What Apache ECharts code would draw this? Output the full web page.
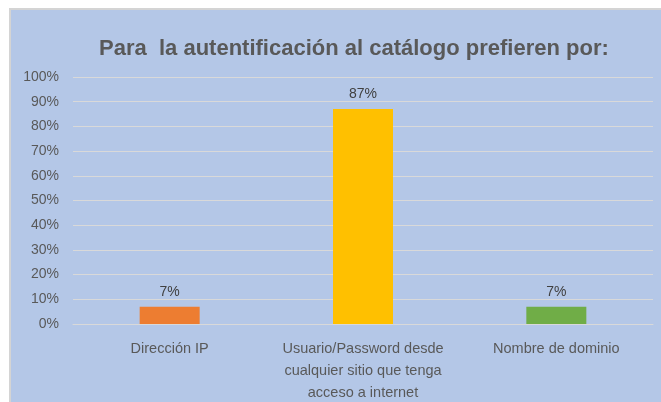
<!DOCTYPE html>
<html>
<head>
<meta charset="utf-8">
<script src="https://cdn.jsdelivr.net/npm/echarts@6/dist/echarts.min.js"></script>
<style>
  html, body { margin: 0; padding: 0; background: #fff; }
  #chart {
    position: absolute; left: 9px; top: 8px;
    width: 650px; height: 392px;
    border-left: 2px solid #d4d4d4; border-top: 2px solid #d4d4d4;
  }
</style>
</head>
<body>
<div id="chart"></div>
<script>
const categories = [
  'Dirección IP',
  'Usuario/Password desde\ncualquier sitio que tenga\nacceso a internet',
  'Nombre de dominio'
];
const values = [7, 87, 7];
const barColors = ['#ED7D31', '#FFC000', '#70AD47'];
const titleText = 'Para  la autentificación al catálogo prefieren por:';

const font = 'Liberation Sans, Arial, sans-serif';

const myChart = echarts.init(document.getElementById('chart'));

const option = {
  backgroundColor: '#B4C7E7',
  animation: false,
  title: {
    text: titleText,
    left: 83,
    top: 23,
    textStyle: { fontFamily: font, fontSize: 22, fontWeight: 'bold', color: '#595959' }
  },
  grid: {
    left: 62,
    right: 8,
    top: 67,
    bottom: 78,
    outerBoundsMode: 'none'
  },
  xAxis: {
    type: 'category',
    data: categories,
    axisTick: { show: false },
    axisLine: { lineStyle: { color: '#d9d9d9' } },
    axisLabel: {
      color: '#595959',
      fontFamily: font,
      fontSize: 14.5,
      lineHeight: 22,
      margin: 14,
      interval: 0
    }
  },
  yAxis: {
    type: 'value',
    min: 0,
    max: 100,
    interval: 10,
    axisLabel: {
      color: '#595959',
      fontFamily: font,
      fontSize: 14,
      margin: 14,
      formatter: v => v + '%'
    },
    splitLine: { lineStyle: { color: '#d9d9d9', width: 1 } },
    axisLine: { show: false },
    axisTick: { show: false }
  },
  series: [
    {
      type: 'bar',
      data: values.map((v, i) => ({ value: v, itemStyle: { color: barColors[i] } })),
      barWidth: 60,
      label: {
        show: true,
        position: 'top',
        distance: 8,
        color: '#404040',
        fontFamily: font,
        fontSize: 14,
        formatter: p => p.value + '%'
      }
    }
  ]
};

myChart.setOption(option);
window.addEventListener('resize', function () {
  myChart.resize();
});
</script>
</body>
</html>
